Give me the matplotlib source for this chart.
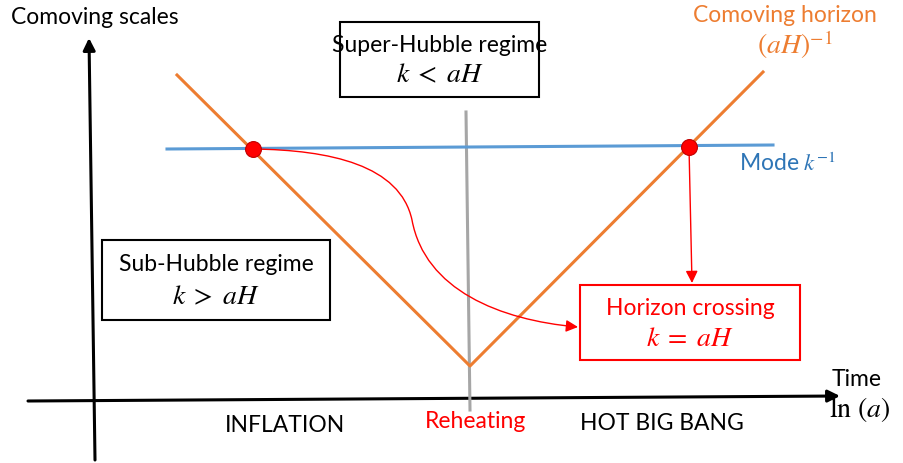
import numpy as np
import matplotlib.pyplot as plt
from matplotlib.patches import FancyArrowPatch, Rectangle
from matplotlib.path import Path

plt.rcParams['font.family'] = ['Lato', 'DejaVu Sans']
plt.rcParams['mathtext.fontset'] = 'stix'

# diagram geometry in picture pixels (x right, y down)
horizon_x = [177, 470, 763]
horizon_y = [75, 366, 72]
mode_x = [167, 773]
mode_y = [149, 145]
cross_x = [253, 689]
cross_y = [149, 147]
reheat_x = [466, 470]
reheat_y = [112, 410]

boxes = [
    # x0, y0, x1, y1, line1, line2, colour
    (340, 22, 539, 97, 'Super-Hubble regime', r'$k\;<\;aH$', 'black'),
    (102, 240, 330, 320, 'Sub-Hubble regime', r'$k\;>\;aH$', 'black'),
    (580, 285, 800, 360, 'Horizon crossing', r'$k\;=\;aH$', 'red'),
]

orange = '#ED7D31'
blue_line = '#5B9BD5'
blue_text = '#2E75B6'
fs = 16.5
fs_math = 20

fig = plt.figure(figsize=(9.04, 4.63), dpi=100)
ax = fig.add_axes([0, 0, 1, 1])
ax.set_xlim(0, 904)
ax.set_ylim(463, 0)
ax.axis('off')

# axes arrows
ax.add_patch(FancyArrowPatch((95, 460), (89, 38), arrowstyle='-|>', mutation_scale=18,
                             color='black', lw=2.2, shrinkA=0, shrinkB=0))
ax.add_patch(FancyArrowPatch((28, 401), (840, 396), arrowstyle='-|>', mutation_scale=18,
                             color='black', lw=2.2, shrinkA=0, shrinkB=0))

ax.plot(reheat_x, reheat_y, color='#A6A6A6', lw=2.2, zorder=2)
ax.plot(mode_x, mode_y, color=blue_line, lw=2.2, zorder=3)
ax.plot(horizon_x, horizon_y, color=orange, lw=2.2, zorder=3)
ax.scatter(cross_x, cross_y, s=130, color='red', edgecolor='#C00000', lw=0.8, zorder=5)

# curved arrow from first crossing to the horizon crossing box
verts = [(cross_x[0], cross_y[0]), (330, 150), (400, 165), (412, 220),
         (425, 290), (500, 320), (578, 327)]
codes = [Path.MOVETO, Path.CURVE4, Path.CURVE4, Path.CURVE4,
         Path.CURVE4, Path.CURVE4, Path.CURVE4]
ax.add_patch(FancyArrowPatch(path=Path(verts, codes), arrowstyle='-|>', mutation_scale=18,
                             color='red', lw=1.0, zorder=4))
ax.add_patch(FancyArrowPatch((cross_x[1], cross_y[1]), (692, 283), arrowstyle='-|>',
                             mutation_scale=18, color='red', lw=1.0, shrinkA=0, shrinkB=0, zorder=4))

for x0, y0, x1, y1, t1, t2, c in boxes:
    ax.add_patch(Rectangle((x0, y0), x1 - x0, y1 - y0, fill=True, facecolor='white',
                           edgecolor=c, lw=1.5, zorder=6))
    cx = (x0 + x1) / 2
    ax.text(cx, y0 + (y1 - y0) * 0.31, t1, color=c, fontsize=fs, ha='center', va='center', zorder=7)
    ax.text(cx, y0 + (y1 - y0) * 0.7, t2, color=c, fontsize=fs_math, ha='center', va='center', zorder=7)

ax.text(95, 18, 'Comoving scales', fontsize=fs, ha='center', va='center')
ax.text(785, 15, 'Comoving horizon', fontsize=fs, color=orange, ha='center', va='center')
ax.text(795, 45, r'$(aH)^{-1}$', fontsize=fs_math, color=orange, ha='center', va='center')
ax.text(788, 163, r'Mode $k^{-1}$', fontsize=fs, color=blue_text, ha='center', va='center')
ax.text(857, 380, 'Time', fontsize=fs, ha='center', va='center')
ax.text(860, 410, r'$\ln\,(a)$', fontsize=fs_math, ha='center', va='center')
ax.text(285, 426, 'INFLATION', fontsize=fs, ha='center', va='center')
ax.text(476, 422, 'Reheating', fontsize=fs, color='red', ha='center', va='center')
ax.text(662, 424, 'HOT BIG BANG', fontsize=fs, ha='center', va='center')

fig.savefig('out.png', dpi=100)
